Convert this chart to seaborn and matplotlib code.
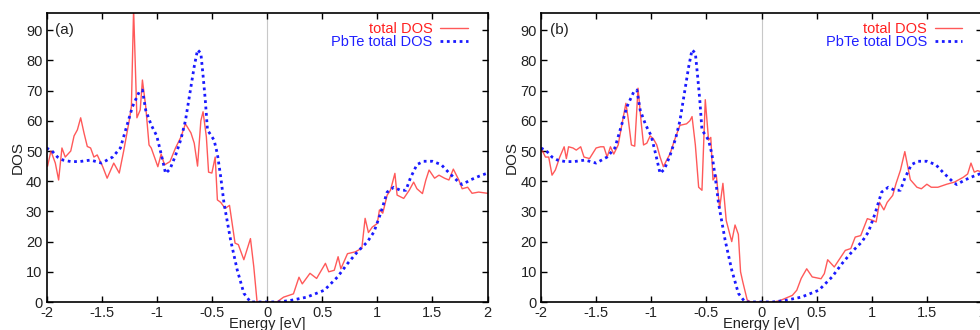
import numpy as np
import pandas as pd
import matplotlib
matplotlib.use("Agg")
import matplotlib.pyplot as plt
import seaborn as sns

# ---------------- data ----------------
Ea_red = [-2.0, -1.99, -1.96, -1.92, -1.89, -1.86, -1.83, -1.78, -1.75, -1.72,
          -1.69, -1.66, -1.63, -1.60, -1.57, -1.54, -1.49, -1.45, -1.39, -1.34,
          -1.30, -1.25, -1.23, -1.21, -1.18, -1.15, -1.13, -1.10, -1.07, -1.05,
          -0.99, -0.96, -0.93, -0.88, -0.83, -0.78, -0.74, -0.69, -0.66, -0.63,
          -0.60, -0.58, -0.55, -0.53, -0.50, -0.47, -0.45, -0.42, -0.38, -0.34,
          -0.29, -0.26, -0.21, -0.15, -0.12, -0.09, 0.0, 0.09, 0.15, 0.24,
          0.29, 0.32, 0.39, 0.45, 0.53, 0.56, 0.61, 0.645, 0.67, 0.73,
          0.80, 0.86, 0.89, 0.92, 0.955, 1.00, 1.02, 1.05, 1.09, 1.12,
          1.16, 1.18, 1.24, 1.29, 1.33, 1.36, 1.41, 1.44, 1.47, 1.52,
          1.56, 1.61, 1.65, 1.69, 1.74, 1.77, 1.82, 1.86, 1.92, 2.0]
Da_red = [45, 45, 50, 46, 40.4, 51, 48, 50, 55, 57,
          61, 56, 51.5, 51, 48, 48.7, 44.8, 41, 46, 42.7,
          50, 60, 64.7, 97, 61, 63.6, 73.5, 64.7, 52, 51,
          44.8, 49, 45.4, 46.5, 51, 54.7, 59, 56, 52.6, 45,
          60, 63, 54.7, 43, 42.7, 48, 33.8, 33, 31, 32,
          19.5, 19, 14, 21, 11.7, 0, 0, 0, 1.6, 2.7,
          8.2, 6, 9.5, 7.8, 12.8, 10, 10.5, 15, 11, 16,
          16.6, 17.8, 27.7, 23, 24.8, 26, 30.5, 29.4, 35.4, 37,
          42.6, 35.4, 34.3, 37, 39.7, 37.5, 35.9, 40.3, 43.7, 41,
          42, 41, 40.4, 44, 40.4, 37.5, 38, 36, 36.4, 36]

Eb_red = [-2.0, -1.99, -1.96, -1.93, -1.90, -1.87, -1.83, -1.79, -1.77, -1.75,
          -1.71, -1.68, -1.64, -1.61, -1.56, -1.50, -1.46, -1.43, -1.40, -1.37,
          -1.34, -1.30, -1.27, -1.23, -1.21, -1.18, -1.15, -1.12, -1.09, -1.07,
          -1.04, -1.01, -0.98, -0.95, -0.92, -0.89, -0.86, -0.83, -0.79, -0.74,
          -0.68, -0.65, -0.63, -0.60, -0.57, -0.54, -0.51, -0.48, -0.46, -0.44,
          -0.41, -0.38, -0.35, -0.32, -0.27, -0.24, -0.21, -0.19, -0.17, -0.13,
          -0.10, 0.0, 0.11, 0.17, 0.28, 0.32, 0.36, 0.41, 0.46, 0.54,
          0.57, 0.60, 0.66, 0.72, 0.76, 0.81, 0.85, 0.90, 0.96, 1.01,
          1.04, 1.07, 1.11, 1.14, 1.19, 1.22, 1.26, 1.30, 1.35, 1.41,
          1.45, 1.50, 1.54, 1.60, 1.68, 1.75, 1.83, 1.87, 1.90, 1.93,
          1.96, 2.0]
Db_red = [50, 50.3, 48, 48, 42, 43.7, 48, 51.4, 47.5, 51.4,
          51, 50.3, 51.4, 48, 47.5, 51, 51.4, 51.4, 48, 51.4,
          49, 52, 58, 65.8, 61, 52, 51.6, 70.8, 59, 52,
          52.6, 55, 54, 52, 48, 44.8, 47, 49, 53.5, 58.5,
          59, 60, 61.4, 52, 38, 37, 67, 53.6, 54.5, 40.4,
          42, 31, 39.3, 27, 20, 25.5, 22.4, 10, 6.7, 0.7,
          0, 0, 0, 0.5, 2.2, 3.9, 7.8, 11, 8.3, 7.7,
          9.4, 14, 11.6, 14.9, 17.1, 17.7, 21.5, 22, 27.6, 27,
          26.5, 33, 30.5, 33, 35.3, 39.2, 43.6, 49.8, 40.5, 38,
          37.5, 39, 38, 38, 39, 39.7, 41.3, 42.4, 46, 43,
          43.5, 43]

E_pbte = [-2.0, -1.95, -1.9, -1.85, -1.78, -1.7, -1.6, -1.5, -1.4, -1.33,
          -1.27, -1.22, -1.16, -1.13, -1.10, -1.05, -1.0, -0.96, -0.92, -0.88,
          -0.83, -0.78, -0.74, -0.70, -0.66, -0.63, -0.60, -0.58, -0.56, -0.54,
          -0.48, -0.45, -0.42, -0.39, -0.33, -0.27, -0.21, -0.15, 0.0, 0.1,
          0.21, 0.36, 0.52, 0.64, 0.73, 0.82, 0.91, 0.97, 1.03, 1.09,
          1.15, 1.21, 1.26, 1.30, 1.36, 1.42, 1.50, 1.58, 1.65, 1.73,
          1.77, 1.85, 1.92, 2.0]
D_pbte = [51, 50, 48, 47, 46.5, 46.5, 47, 46, 48, 51,
          58.5, 64.7, 69.5, 70.2, 63.5, 58.6, 55, 49, 42.6, 44,
          48.5, 54, 60, 69, 78, 83.5, 82.4, 75, 67, 57,
          53.6, 49, 41.5, 32.7, 20.5, 10.6, 2.9, 0, 0, 0,
          0.5, 1.6, 3.9, 8.3, 12.7, 16.6, 19.9, 23.2, 29.3, 36.4,
          38, 37, 37, 41, 45.5, 46.6, 46.6, 45.5, 42.8, 40,
          38.9, 40.5, 41.6, 42.7]

panel_labels = ["(a)", "(b)"]
series_labels = ["total DOS", "PbTe total DOS"]
x_ticks = [-2, -1.5, -1, -0.5, 0, 0.5, 1, 1.5, 2]
x_ticklabels = ["-2", "-1.5", "-1", "-0.5", "0", "0.5", "1", "1.5", "2"]
y_ticks = [0, 10, 20, 30, 40, 50, 60, 70, 80, 90]

assert len(Ea_red) == len(Da_red)
assert len(Eb_red) == len(Db_red)
assert len(E_pbte) == len(D_pbte)

# ---------------- style ----------------
sns.set_style("ticks")
plt.rcParams["font.family"] = ["Liberation Sans", "DejaVu Sans"]
plt.rcParams["axes.linewidth"] = 1.2

W, H = 980, 330
fig = plt.figure(figsize=(W / 100, H / 100), dpi=100)

def px_axes(left, top, right, bottom):
    return fig.add_axes([left / W, 1 - bottom / H, (right - left) / W, (bottom - top) / H])

ax_a = px_axes(46.5, 13, 487.5, 302)
ax_b = px_axes(541, 13, 982, 302)

red_sets = [(Ea_red, Da_red), (Eb_red, Db_red)]

for ax, (er, dr), plabel in zip([ax_a, ax_b], red_sets, panel_labels):
    ax.axvline(0, color="#c8c8c8", lw=0.8, zorder=0)
    df_red = pd.DataFrame({"E": er, "DOS": dr})
    df_pb = pd.DataFrame({"E": E_pbte, "DOS": D_pbte})
    sns.lineplot(data=df_red, x="E", y="DOS", ax=ax, color="#ff3030", lw=1.0,
                 alpha=0.8, label=series_labels[0], sort=False)
    sns.lineplot(data=df_pb, x="E", y="DOS", ax=ax, color="#1a1aff", lw=2.0,
                 linestyle=(0, (1, 1.3)), label=series_labels[1], sort=False)
    ax.set_xlim(-2, 2)
    ax.set_ylim(0, 95.7)
    ax.set_xticks(x_ticks)
    ax.set_xticklabels(x_ticklabels)
    ax.set_yticks(y_ticks)
    ax.tick_params(direction="in", length=4, width=1, top=True, right=True,
                   labelsize=10.5, pad=3, colors="black")
    ax.tick_params(axis="x", labelcolor="#222222")
    ax.tick_params(axis="y", labelcolor="#222222")
    for s in ax.spines.values():
        s.set_visible(True)
        s.set_color("black")
    ax.set_xlabel("Energy [eV]", fontsize=10.5, labelpad=-2, color="#222222")
    ax.set_ylabel("DOS", fontsize=11, labelpad=1, color="#222222")
    ax.text(0.02, 0.94, plabel, transform=ax.transAxes, fontsize=11,
            ha="left", va="center", color="#222222")
    leg = ax.legend(loc="upper right", frameon=False, markerfirst=False,
                    fontsize=10.5, handlelength=1.9, labelspacing=-0.05,
                    borderaxespad=0.2, handletextpad=0.5,
                    bbox_to_anchor=(0.975, 1.0))
    for txt, col in zip(leg.get_texts(), ["#ff2020", "#2020ff"]):
        txt.set_color(col)

fig.savefig("out.png", dpi=100)
